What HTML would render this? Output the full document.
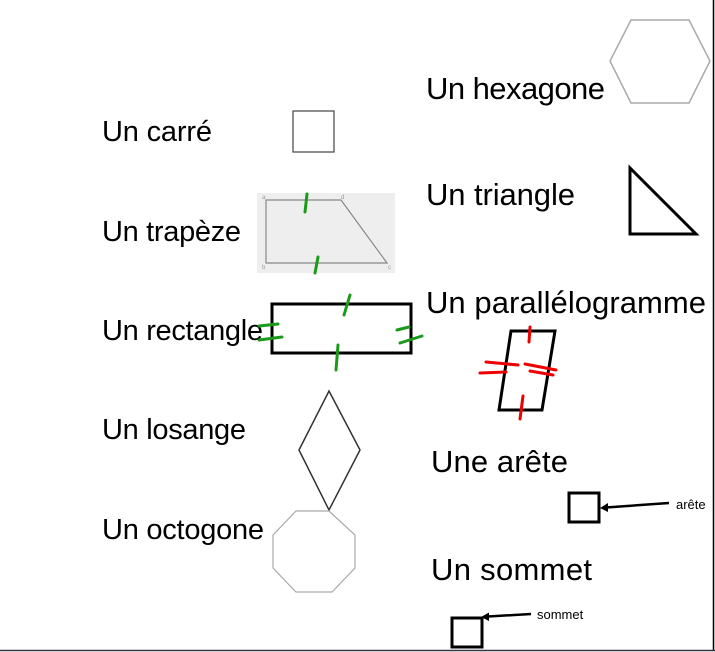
<!DOCTYPE html>
<html><head><meta charset="utf-8"><style>
html,body{margin:0;padding:0;background:#fff}
svg{display:block}
text{font-family:"Liberation Sans",sans-serif;fill:#000}
.b{font-size:29px}
.r{font-size:31px}
</style></head><body>
<svg width="715" height="652" viewBox="0 0 715 652" xmlns="http://www.w3.org/2000/svg">
<line x1="713.5" y1="0" x2="713.5" y2="651" stroke="#000" stroke-width="1.5"/>
<line x1="0" y1="650.5" x2="715" y2="650.5" stroke="#334" stroke-width="1.5"/>
<text class="b" x="102" y="141" textLength="110">Un carré</text>
<text class="b" x="102" y="241" textLength="139">Un trapèze</text>
<text class="b" x="102" y="340" textLength="161">Un rectangle</text>
<text class="b" x="102" y="439" textLength="144">Un losange</text>
<text class="b" x="102" y="539" textLength="162">Un octogone</text>
<text class="r" x="426" y="99" textLength="179">Un hexagone</text>
<text class="r" x="426" y="205" textLength="149">Un triangle</text>
<text class="r" x="426" y="313" textLength="280">Un parallélogramme</text>
<text class="r" x="431" y="472" textLength="137">Une arête</text>
<text class="r" x="431" y="580" textLength="161">Un sommet</text>
<polygon points="631,20 689,20 710,61 689,103 631,103 610,61" fill="none" stroke="#aaa" stroke-width="1.5"/>
<polygon points="630,168 630,234 696,234" fill="none" stroke="#000" stroke-width="3"/>
<rect x="293" y="111" width="41" height="41" fill="none" stroke="#444" stroke-width="1.2"/>
<rect x="257" y="193" width="138" height="80" fill="#eee"/>
<polygon points="266,200 341,200 387,263 266,263" fill="none" stroke="#888" stroke-width="1.2"/>
<text x="262" y="199" style="font-size:6px;fill:#999">a</text><text x="341" y="199" style="font-size:6px;fill:#999">d</text>
<text x="262" y="269" style="font-size:6px;fill:#999">b</text><text x="388" y="269" style="font-size:6px;fill:#999">c</text>
<g stroke="#1a9a1a" stroke-width="3" stroke-linecap="round" fill="none">
<path d="M307,194 L305,212"/><path d="M318,257 L315,273"/>
</g>
<rect x="272" y="304" width="139" height="49" fill="none" stroke="#000" stroke-width="3"/>
<g stroke="#1a9a1a" stroke-width="3" stroke-linecap="round" fill="none">
<path d="M350,295 L344,315"/><path d="M338,345 L336,370"/>
<path d="M259,326 L278,324"/><path d="M259,340 L282,337"/>
<path d="M397,330 L409,327"/><path d="M400,343 L422,336"/>
</g>
<polygon points="329,391 360,450 329,510 299,450" fill="none" stroke="#333" stroke-width="1.5"/>
<polygon points="296,511 329,511 355,535 355,568 332,592 296,592 273,568 273,535" fill="none" stroke="#aaa" stroke-width="1.2"/>
<polygon points="511,331 555,331 542,410 499,410" fill="none" stroke="#000" stroke-width="3"/>
<g stroke="#e00" stroke-width="3" stroke-linecap="round" fill="none">
<path d="M530,327 L529,342"/><path d="M523,396 L520,419"/>
<path d="M486,362 L518,365"/><path d="M480,373 L506,372"/>
<path d="M525,364 L556,370"/><path d="M530,371 L553,375"/>
</g>
<rect x="569" y="493" width="30" height="29" fill="none" stroke="#000" stroke-width="3"/>
<line x1="669" y1="503" x2="606" y2="507.5" stroke="#000" stroke-width="2.5"/>
<polygon points="600,508 608,503 608,512" fill="#000"/>
<text x="676" y="509" style="font-size:13px">arête</text>
<rect x="452" y="618" width="30" height="29" fill="none" stroke="#000" stroke-width="3"/>
<line x1="531" y1="614" x2="488" y2="616.5" stroke="#000" stroke-width="2.5"/>
<polygon points="481,617 489,612.5 489,621" fill="#000"/>
<text x="537" y="619" style="font-size:13px">sommet</text>
</svg>
</body></html>
